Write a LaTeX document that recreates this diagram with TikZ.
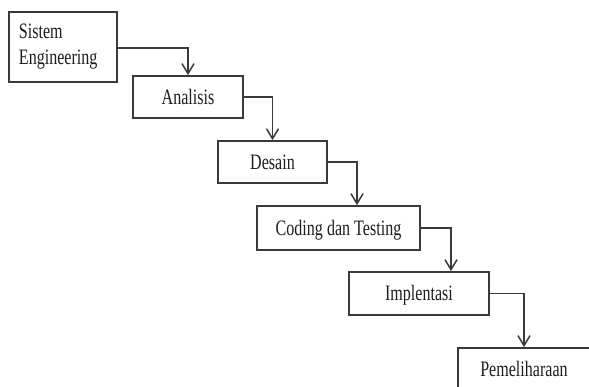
\documentclass[tikz,border=0pt]{standalone}
\usepackage{fontspec}
\setmainfont{Liberation Serif}
\usepackage{graphicx}
\usetikzlibrary{arrows.meta}
\definecolor{linegray}{RGB}{58,58,58}
\definecolor{textgray}{RGB}{30,30,30}
% condensed lettering used for all stage labels
\newcommand{\narrow}[1]{\scalebox{0.73}[1]{#1}}
\begin{document}
\begin{tikzpicture}[x=1pt,y=-1pt,
  stage/.style={draw=linegray, line width=1.8pt, rectangle, inner sep=0pt,
    font=\fontsize{22}{26}\selectfont, text=textgray},
  oneline/.style={text height=15pt, text depth=0pt},
  flow/.style={draw=linegray, line width=1.7pt,
    -{Straight Barb[length=10pt,width=12pt,line width=1.5pt]}}]
\useasboundingbox (0,0) rectangle (589,387);
\clip (0,0) rectangle (589,387);
\fill[white] (0,0) rectangle (589,387);

% waterfall stages
\node[stage, minimum width=108pt, minimum height=70pt, text width=88pt,
  align=left, inner xsep=10pt] (b1) at (63,47)
  {\narrow{Sistem}\\\narrow{Engineering}};
\node[stage, oneline, minimum width=110pt, minimum height=42pt] (b2) at (188,97)
  {\narrow{Analisis}};
\node[stage, oneline, minimum width=109pt, minimum height=42pt] (b3) at (272.5,162)
  {\narrow{Desain}};
\node[stage, oneline, minimum width=163pt, minimum height=44pt] (b4) at (338.5,228)
  {\narrow{Coding dan Testing}};
\node[stage, oneline, minimum width=140pt, minimum height=43pt] (b5) at (419,293.5)
  {\narrow{Implentasi}};
\node[stage, oneline, minimum width=132pt, minimum height=42pt] (b6) at (524,369)
  {\narrow{Pemeliharaan}};

% step-down connectors
\draw[flow] ([yshift=-1pt]b1.east) -| (b2.north);
\draw[flow] (b2.east) -| (b3.north);
\draw[flow] (b3.east) -| ([xshift=18.5pt]b4.north);
\draw[flow] (b4.east) -| ([xshift=32pt]b5.north);
\draw[flow] (b5.east) -| (b6.north);
\end{tikzpicture}
\end{document}
